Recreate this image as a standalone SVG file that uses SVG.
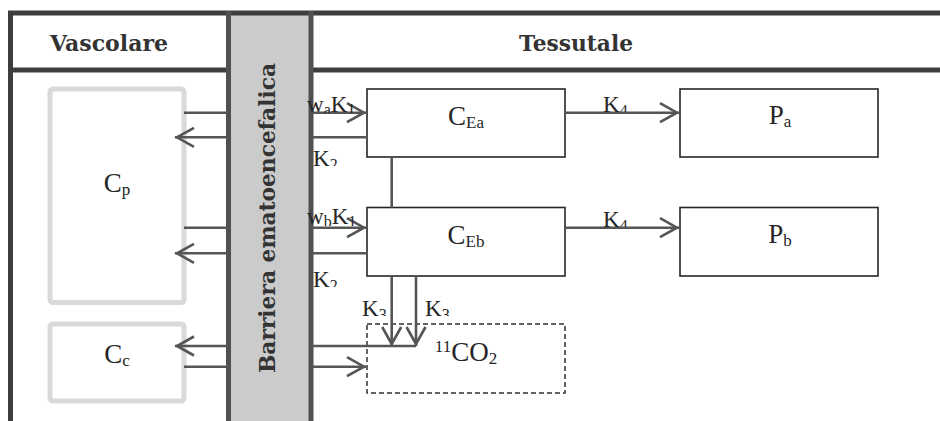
<svg xmlns="http://www.w3.org/2000/svg" width="940" height="421" viewBox="0 0 940 421">
<style>
.frame{stroke:#3d3d3d;stroke-width:5;fill:none}
.bar{stroke:#505050;stroke-width:5}
.head{font-family:"DejaVu Serif",serif;font-weight:bold;font-size:22px;fill:#333}
.lbl{font-family:"Liberation Serif",serif;font-size:27px;fill:#262626;text-anchor:middle}
.elbl{font-family:"Liberation Serif",serif;font-size:23px;fill:#262626}
.vbox{fill:#fff;stroke:#d9d9d9;stroke-width:5}
.box{fill:#fff;stroke:#262626;stroke-width:1.6}
.dbox{fill:#fff;stroke:#333;stroke-width:1.5;stroke-dasharray:5 3}
.c{stroke:#555;stroke-width:2.6;fill:none}
.ca{stroke:#555;stroke-width:2.6;fill:none;marker-end:url(#ah)}
</style>
<defs>
<marker id="ah" markerUnits="userSpaceOnUse" markerWidth="30" markerHeight="30" viewBox="-25 -15 30 30" refX="0" refY="0" orient="auto">
<path d="M-19,-9.5 L-2,0 L-19,9.5" fill="none" stroke="#555" stroke-width="2.6"/>
</marker>
<clipPath id="cl1"><rect x="305" y="96" width="66" height="17"/></clipPath>
<clipPath id="cl2"><rect x="311" y="145" width="50" height="21"/></clipPath>
<clipPath id="cl3"><rect x="305" y="204" width="66" height="22"/></clipPath>
<clipPath id="cl4"><rect x="311" y="265" width="50" height="22"/></clipPath>
<clipPath id="cl5"><rect x="355" y="295" width="35" height="21"/></clipPath>
<clipPath id="cl6"><rect x="418" y="295" width="40" height="21"/></clipPath>
<clipPath id="cl7"><rect x="595" y="92" width="40" height="20"/></clipPath>
<clipPath id="cl8"><rect x="595" y="207" width="40" height="20"/></clipPath>
</defs>
<rect x="0" y="0" width="940" height="421" fill="#fff"/>

<g id="frame">
<rect x="228.5" y="13" width="82.5" height="410" fill="#cbcbcb"/>
<line class="frame" x1="8" y1="13" x2="940" y2="13"/>
<line class="frame" x1="10.5" y1="11" x2="10.5" y2="421"/>
<line class="frame" x1="8" y1="70" x2="229" y2="70"/>
<line class="frame" x1="311" y1="70" x2="940" y2="70"/>
<line class="bar" x1="228.5" y1="11" x2="228.5" y2="421"/>
<line class="bar" x1="311" y1="11" x2="311" y2="421"/>
<text class="head" x="109" y="50.5" text-anchor="middle" textLength="118" lengthAdjust="spacingAndGlyphs">Vascolare</text>
<text class="head" x="576" y="50.5" text-anchor="middle" textLength="114" lengthAdjust="spacingAndGlyphs">Tessutale</text>
<text class="head" font-size="23" transform="translate(275,218) rotate(-90)" text-anchor="middle" textLength="310" lengthAdjust="spacingAndGlyphs">Barriera ematoencefalica</text>
</g>

<g id="node-Cp">
<rect class="vbox" x="50" y="89" width="134" height="213.5" rx="3"/>
<text class="lbl" x="117" y="191.5">C<tspan font-size="17" dy="3">p</tspan></text>
</g>
<g id="node-Cc">
<rect class="vbox" x="50" y="324" width="134" height="77" rx="3"/>
<text class="lbl" x="117" y="362.5">C<tspan font-size="17" dy="3">c</tspan></text>
</g>
<g id="node-CEa">
<rect class="box" x="367" y="89" width="198" height="68"/>
<text class="lbl" x="466" y="125">C<tspan font-size="17" dy="3">Ea</tspan></text>
</g>
<g id="node-CEb">
<rect class="box" x="367" y="207.5" width="198" height="68.5"/>
<text class="lbl" x="466" y="243.5">C<tspan font-size="17" dy="3">Eb</tspan></text>
</g>
<g id="node-Pa">
<rect class="box" x="680" y="89" width="198" height="68"/>
<text class="lbl" x="780" y="124">P<tspan font-size="17" dy="3">a</tspan></text>
</g>
<g id="node-Pb">
<rect class="box" x="680" y="207.5" width="198" height="68.5"/>
<text class="lbl" x="780" y="243">P<tspan font-size="17" dy="3">b</tspan></text>
</g>
<g id="node-CO2">
<rect class="dbox" x="367" y="324" width="198" height="69"/>
<text class="lbl" x="466" y="361"><tspan font-size="17" dy="-9">11</tspan><tspan dy="9">CO</tspan><tspan font-size="17" dy="3">2</tspan></text>
</g>

<g id="connectors">
<line class="c" x1="184" y1="112.7" x2="228.5" y2="112.7"/>
<line class="ca" x1="228.5" y1="137.3" x2="175" y2="137.3"/>
<line class="c" x1="184" y1="227.7" x2="228.5" y2="227.7"/>
<line class="ca" x1="228.5" y1="253.3" x2="175" y2="253.3"/>
<line class="ca" x1="228.5" y1="346" x2="175" y2="346"/>
<line class="c" x1="184" y1="366.7" x2="228.5" y2="366.7"/>

<line class="ca" x1="311" y1="112.7" x2="366" y2="112.7"/>
<line class="c" x1="311" y1="137.3" x2="367" y2="137.3"/>
<line class="ca" x1="311" y1="227.7" x2="366" y2="227.7"/>
<line class="c" x1="311" y1="253.3" x2="367" y2="253.3"/>
<line class="c" x1="311" y1="346" x2="416" y2="346"/>
<line class="ca" x1="311" y1="366.7" x2="366" y2="366.7"/>

<line class="c" x1="391.7" y1="157" x2="391.7" y2="207.5"/>
<line class="ca" x1="391.7" y1="276" x2="391.7" y2="346"/>
<line class="ca" x1="416" y1="276" x2="416" y2="346"/>

<line class="ca" x1="565" y1="112.7" x2="679" y2="112.7"/>
<line class="ca" x1="565" y1="227.7" x2="679" y2="227.7"/>

<text class="elbl" font-size="26" x="307" y="112" clip-path="url(#cl1)">w<tspan font-size="16" dy="3">a</tspan><tspan dy="-3">K</tspan><tspan font-size="16" dy="3">1</tspan></text>
<text class="elbl" x="313" y="166" clip-path="url(#cl2)">K<tspan font-size="16" dy="4">2</tspan></text>
<text class="elbl" font-size="26" x="307" y="224" clip-path="url(#cl3)">w<tspan font-size="16" dy="3">b</tspan><tspan dy="-3">K</tspan><tspan font-size="16" dy="3">1</tspan></text>
<text class="elbl" x="313" y="286.5" clip-path="url(#cl4)">K<tspan font-size="16" dy="4">2</tspan></text>
<text class="elbl" x="362" y="316" clip-path="url(#cl5)">K<tspan font-size="16" dy="4">3</tspan></text>
<text class="elbl" x="425" y="316" clip-path="url(#cl6)">K<tspan font-size="16" dy="4">3</tspan></text>
<text class="elbl" x="603" y="112" clip-path="url(#cl7)">K<tspan font-size="16" dy="4">4</tspan></text>
<text class="elbl" x="603" y="227" clip-path="url(#cl8)">K<tspan font-size="16" dy="4">4</tspan></text>
</g>
</svg>
